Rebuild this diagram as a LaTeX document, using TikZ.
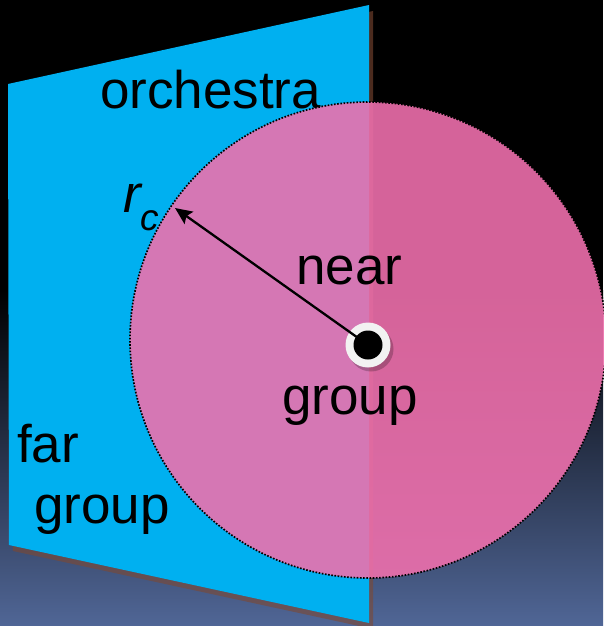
\documentclass[tikz,border=0pt]{standalone}
\usepackage{fontspec}
\setmainfont{Liberation Sans}
\usetikzlibrary{arrows.meta}
\definecolor{cyanp}{RGB}{0,176,240}
\definecolor{pinkc}{RGB}{240,112,173}
\definecolor{bgbot}{RGB}{80,102,150}
\definecolor{shadowc}{RGB}{125,72,50}
\definecolor{ringc}{RGB}{242,242,242}
\tikzset{
  lbl/.style={anchor=base west, inner sep=0pt, font=\fontsize{53}{60}\selectfont},
  zone/.style={circle, inner sep=0pt, minimum size=476pt, fill=pinkc, fill opacity=0.89,
    draw=black, draw opacity=1, line width=1.7pt, dash pattern=on 1.6pt off 1.6pt},
  ringnode/.style={circle, inner sep=0pt, minimum size=45pt, fill=ringc},
  dotnode/.style={circle, inner sep=0pt, minimum size=29pt, fill=black},
  radius arrow/.style={line width=2.3pt, -{Stealth[length=17pt, width=15pt, inset=3pt]}}
}
\begin{document}
\begin{tikzpicture}[x=1pt,y=-1pt]
\useasboundingbox (0,0) rectangle (603,626);
% background
\fill[black] (0,0) rectangle (603,291);
\shade[top color=black, bottom color=bgbot] (0,290) rectangle (603,626);
% orchestra plane
\coordinate (TL) at (8,84);
\coordinate (TR) at (369,5);
\coordinate (BR) at (369,623);
\coordinate (BL) at (9,545);
\fill[shadowc, opacity=0.6] ([shift={(4,6)}]TL) -- ([shift={(4,6)}]TR) -- ([shift={(4,6)}]BR) -- ([shift={(4,6)}]BL) -- cycle;
\fill[cyanp] (TL) -- (TR) -- (BR) -- (BL) -- cycle;
% labels on the plane
\node[lbl] (orch) at (100,108) {orchestra};
\node[lbl] (far) at (17,462) {far};
\node[lbl] (fargroup) at (34,523) {group};
% near zone
\node[zone] (C) at (368,340) {};
% centre marker
\fill[black, opacity=0.22] (371,349) circle (22.5);
\node[ringnode] (ring) at (368,345) {};
\node[dotnode] (dot) at (368,345) {};
\coordinate (tip) at (175,208);
\draw[radius arrow] (dot.center) -- (tip);
% labels
\node[lbl] (rc) at (123,212) {\itshape r\raisebox{-18pt}{\fontsize{37}{40}\selectfont\itshape c}};
\node[lbl] (near) at (296,284) {near};
\node[lbl] (neargroup) at (282,414) {group};
\end{tikzpicture}
\end{document}
